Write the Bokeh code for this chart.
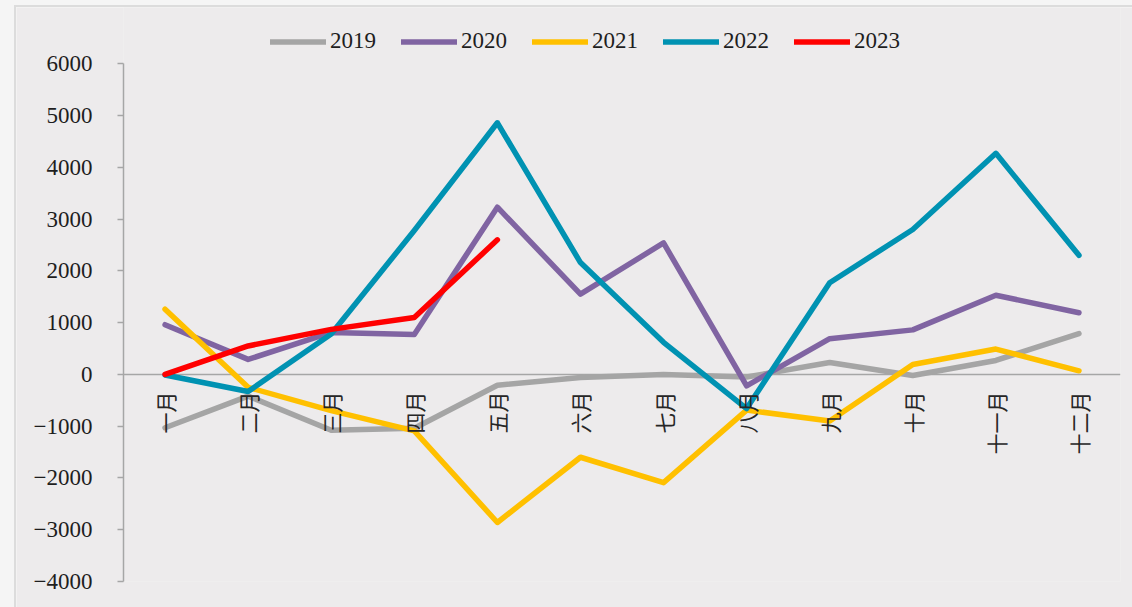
import math
from bokeh.plotting import figure
from bokeh.models import Range1d, FixedTicker, Span
from bokeh.layouts import column
from bokeh.embed import file_html
from bokeh.resources import INLINE

months = ["一月", "二月", "三月", "四月", "五月", "六月", "七月", "八月", "九月", "十月", "十一月", "十二月"]
y2019 = [-1030, -420, -1080, -1040, -210, -60, 0, -50, 230, -20, 270, 790]
y2020 = [960, 290, 810, 770, 3230, 1550, 2540, -220, 690, 860, 1530, 1190]
y2021 = [1260, -250, -700, -1090, -2860, -1600, -2090, -690, -900, 190, 490, 70]
y2022 = [-10, -330, 780, 2780, 4860, 2160, 620, -660, 1770, 2800, 4270, 2300]
y2023 = [0, 550, 870, 1100, 2600]
series_names = ["2019", "2020", "2021", "2022", "2023"]
series_colors = ["#A5A5A5", "#8064A2", "#FFC000", "#0092B2", "#FF0000"]
y_ticks = [-4000, -3000, -2000, -1000, 0, 1000, 2000, 3000, 4000, 5000, 6000]
y_tick_labels = ["\u22124000", "\u22123000", "\u22122000", "\u22121000", "0", "1000", "2000", "3000", "4000", "5000", "6000"]

BG = "#EDEBEC"
# frame extends above the 6000 tick to leave room for the legend inside it
p = figure(
    x_range=months,
    y_range=Range1d(-4000, 7087),
    width=1116, height=600,
    min_border_left=107, min_border_right=12, min_border_top=0, min_border_bottom=26,
    output_backend="svg", toolbar_location=None,
    background_fill_color=BG, border_fill_color=BG,
)
p.margin = (7, 0, 0, 16)
p.styles = {"box-shadow": "0 0 0 2px #DCDCDC"}
p.outline_line_color = None
p.xgrid.visible = False
p.ygrid.visible = False

zero = Span(location=0, dimension="width", line_color="#A6A6A6", line_width=1.5, level="underlay")
p.add_layout(zero)

for name, ys, col in zip(series_names, [y2019, y2020, y2021, y2022, y2023], series_colors):
    p.line(months[:len(ys)], ys, line_color=col, line_width=5.5, line_cap="round",
           line_join="round", legend_label=name)

# y axis
ya = p.yaxis[0]
ya.ticker = FixedTicker(ticks=y_ticks)
ya.bounds = (-4000, 6000)
ya.major_label_overrides = dict(zip(y_ticks, y_tick_labels))
ya.axis_line_color = "#A6A6A6"
ya.axis_line_width = 1.5
ya.major_tick_line_color = "#A6A6A6"
ya.major_tick_line_width = 1.5
ya.major_tick_out = 6
ya.major_tick_in = 0
ya.minor_tick_line_color = None
ya.major_label_standoff = 25
ya.major_label_text_font = "Liberation Serif"
ya.major_label_text_font_size = "23px"
ya.major_label_text_color = "#1E1E1E"

# x axis at zero
xa = p.xaxis[0]
xa.fixed_location = 0
xa.axis_line_color = None
xa.major_tick_line_color = None
xa.minor_tick_line_color = None
xa.major_tick_out = 0
xa.major_tick_in = 0
xa.major_label_orientation = math.pi / 2
xa.major_label_standoff = 17
xa.major_label_text_font = "Noto Sans CJK SC"
xa.major_label_text_font_size = "21px"
xa.major_label_text_color = "#262626"

lg = p.legend[0]
lg.orientation = "horizontal"
lg.location = (147, 527)
lg.glyph_width = 56
lg.glyph_height = 23
lg.label_standoff = 4
lg.spacing = 25
lg.padding = 0
lg.margin = 0
lg.border_line_color = None
lg.background_fill_alpha = 0
lg.label_text_font = "Liberation Serif"
lg.label_text_font_size = "23px"
lg.label_text_color = "#1E1E1E"
lg.label_height = 23

layout = column(p, width=1132, height=607, styles={"background-color": "#F5F5F5"})
open("out.html", "w").write(file_html(layout, INLINE))
